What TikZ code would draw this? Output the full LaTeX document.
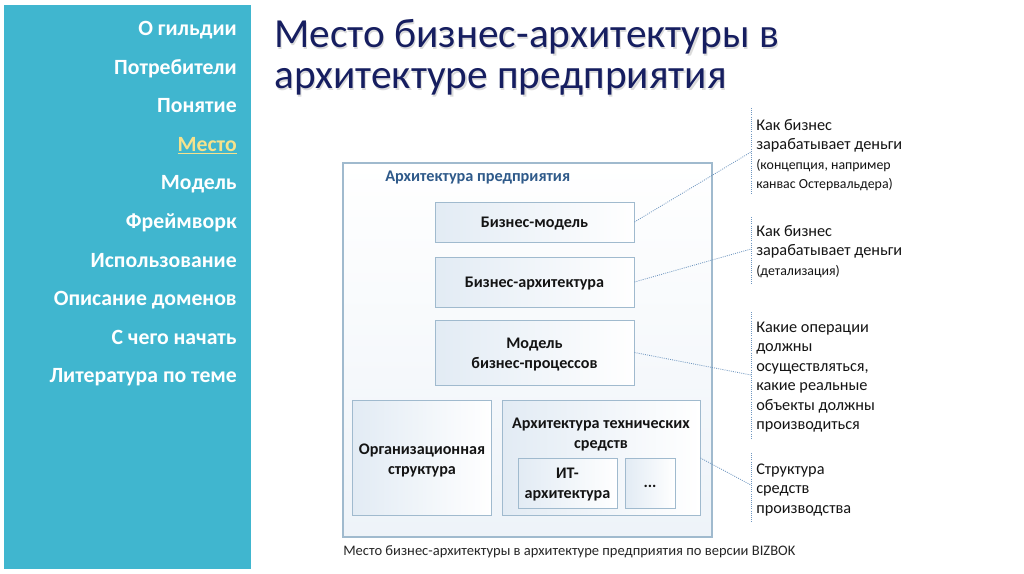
\documentclass[tikz,border=0pt]{standalone}
\usepackage{fontspec}
\setmainfont{Carlito}
\definecolor{sidecol}{RGB}{64,182,207}
\definecolor{hl}{RGB}{246,226,140}
\definecolor{ttl}{RGB}{22,30,96}
\definecolor{frame}{RGB}{160,186,206}
\definecolor{lbl}{RGB}{47,90,138}
\definecolor{dotc}{RGB}{110,150,192}
\definecolor{tint}{RGB}{226,235,244}
\definecolor{txt}{RGB}{20,20,20}
\tikzset{
  box/.style={draw=frame, line width=0.7pt, rectangle, inner sep=0pt,
    left color=tint, right color=white},
  outerbox/.style={draw=frame, line width=0.8pt, rectangle, inner sep=0pt,
    top color=white, bottom color=tint!60},
  btxt/.style={font=\fontsize{12.1}{15}\selectfont\bfseries, text=txt, align=center, inner sep=0pt, yshift=-1.5pt},
  ntxt/.style={font=\fontsize{12.2}{14.6}\selectfont, text=txt, align=left, inner sep=0pt, anchor=north west},
  sidetxt/.style={font=\fontsize{16.3}{18}\selectfont\bfseries, text=white, anchor=base east, inner sep=0pt},
  ttltxt/.style={anchor=base west, inner sep=0pt, font=\fontsize{31}{34}\selectfont},
  dotline/.style={draw=dotc, line width=0.6pt, dash pattern=on 0.7pt off 0.9pt},
}
\newcommand{\smallnote}{\fontsize{10.4}{14.6}\selectfont}
\begin{document}
\begin{tikzpicture}[x=0.75pt, y=-0.75pt]
\useasboundingbox (0,0) rectangle (1024,574);
\fill[white] (0,0) rectangle (1024,574);
% sidebar
\fill[sidecol] (4,5) rectangle (251,569);
\node[sidetxt] (s1) at (237,36) {О гильдии};
\node[sidetxt] (s2) at (237,74.5) {Потребители};
\node[sidetxt] (s3) at (237,113) {Понятие};
\node[sidetxt, text=hl] (s4) at (237,151.5) {\underline{Место}};
\node[sidetxt] (s5) at (237,190) {Модель};
\node[sidetxt] (s6) at (237,228.5) {Фреймворк};
\node[sidetxt] (s7) at (237,267) {Использование};
\node[sidetxt] (s8) at (237,305.5) {Описание доменов};
\node[sidetxt] (s9) at (237,344) {С чего начать};
\node[sidetxt] (s10) at (237,382.5) {Литература по теме};
% title
\node[ttltxt, text=black!14] (t1s) at (275.3,49.3) {Место бизнес-архитектуры в};
\node[ttltxt, text=black!14] (t2s) at (275.3,90.3) {архитектуре предприятия};
\node[ttltxt, text=ttl] (t1) at (274,48) {Место бизнес-архитектуры в};
\node[ttltxt, text=ttl] (t2) at (274,89) {архитектуре предприятия};
% outer box
\node[outerbox, minimum width=369*0.75pt, minimum height=374*0.75pt] (out) at (527.5,350) {};
\node[anchor=base west, inner sep=0pt, text=lbl, font=\fontsize{12.2}{13}\selectfont\bfseries] (outl) at (385,181) {Архитектура предприятия};
% inner boxes
\node[box, minimum width=199*0.75pt, minimum height=40*0.75pt] (bm) at (534.5,222) {};
\node[btxt] at (bm.center) {Бизнес-модель};
\node[box, minimum width=199*0.75pt, minimum height=50*0.75pt] (ba) at (534.5,282) {};
\node[btxt] at (ba.center) {Бизнес-архитектура};
\node[box, minimum width=199*0.75pt, minimum height=65*0.75pt] (bp) at (534.5,352.5) {};
\node[btxt] at (bp.center) {Модель\\бизнес-процессов};
\node[box, minimum width=139*0.75pt, minimum height=115*0.75pt] (org) at (422,458) {};
\node[btxt] at (org.center) {Организационная\\структура};
\node[box, minimum width=198*0.75pt, minimum height=115*0.75pt] (tech) at (601,458) {};
\node[btxt] at (601,433) {Архитектура технических\\средств};
\node[box, minimum width=99*0.75pt, minimum height=50*0.75pt] (it) at (567.5,483) {};
\node[btxt] at (it.center) {ИТ-\\архитектура};
\node[box, minimum width=50*0.75pt, minimum height=50*0.75pt] (dd) at (650,483) {};
\node[btxt] at (650,484) {...};
% caption
\node[anchor=base west, inner sep=0pt, text=black!85, font=\fontsize{10.9}{12}\selectfont] (cap) at (343,555.5) {Место бизнес-архитектуры в архитектуре предприятия по версии BIZBOK};
% annotations
\coordinate (v1a) at (751,108); \coordinate (v1b) at (751,195);
\coordinate (v2a) at (751,217); \coordinate (v2b) at (751,285);
\coordinate (v3a) at (751,312); \coordinate (v3b) at (751,438);
\coordinate (v4a) at (751,453); \coordinate (v4b) at (751,522);
\draw[dotline] (v1a) -- (v1b);
\draw[dotline] (v2a) -- (v2b);
\draw[dotline] (v3a) -- (v3b);
\draw[dotline] (v4a) -- (v4b);
\coordinate (c1) at (751,152);
\coordinate (c2) at (751,249);
\coordinate (c3) at (751,375);
\coordinate (c4) at (751,485);
\draw[dotline] (bm.east) -- (c1);
\draw[dotline] (ba.east) -- (c2);
\draw[dotline] (bp.east) -- (c3);
\draw[dotline] (tech.east) -- (c4);
\node[ntxt] (n1) at (756,119) {Как бизнес\\зарабатывает деньги\\{\smallnote(концепция, например}\\{\smallnote канвас Остервальдера)}};
\node[ntxt] (n2) at (756,225) {Как бизнес\\зарабатывает деньги\\{\smallnote(детализация)}};
\node[ntxt] (n3) at (756,321.5) {Какие операции\\должны\\осуществляться,\\какие реальные\\объекты должны\\производиться};
\node[ntxt] (n4) at (756,463.5) {Структура\\средств\\производства};
\end{tikzpicture}
\end{document}
